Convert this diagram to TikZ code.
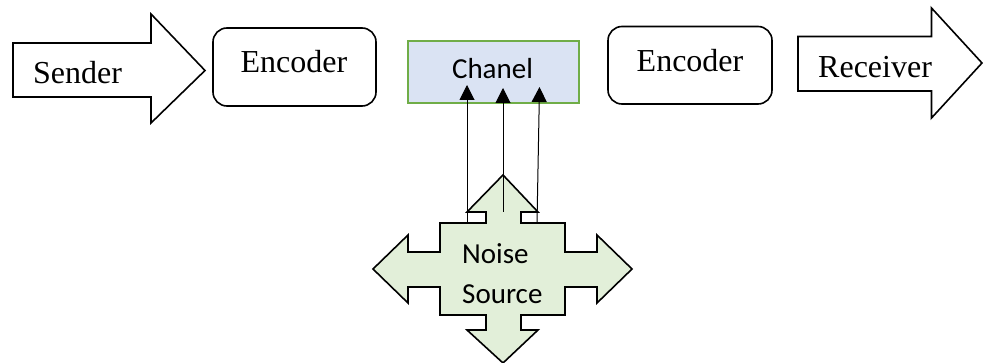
\documentclass[tikz,border=0pt]{standalone}
\usepackage{fontspec}
\newfontfamily\tnrfont{Liberation Serif}
\newfontfamily\calfont{Carlito}
\usetikzlibrary{arrows.meta}
\definecolor{chfill}{HTML}{DAE3F3}
\definecolor{chline}{HTML}{70AD47}
\definecolor{nsfill}{HTML}{E2EFD9}
\begin{document}
\begin{tikzpicture}[x=1pt,y=-1pt,
  shapeline/.style={draw=black,line width=1.6pt,line join=miter},
  encbox/.style={draw=black,line width=1.6pt,rounded corners=14pt},
  serif/.style={font=\tnrfont\fontsize{32}{38}\selectfont,inner sep=0pt},
  sans/.style={font=\calfont\fontsize{29}{35}\selectfont,inner sep=0pt},
  noisearrow/.style={draw=black,line width=1pt,-{Triangle[length=15pt,width=15pt]}}]
\useasboundingbox (0,0) rectangle (983,363);
% Sender arrow
\draw[shapeline,fill=white] (13,43) -- (151,43) -- (151,14) -- (205,70.5) -- (151,123) -- (151,97) -- (13,97) -- cycle;
\node[serif,anchor=base west] (sender) at (33,84) {Sender};
% Encoder 1
\draw[encbox] (213,28) rectangle (376,106);
\node[serif,anchor=base] (enc1t) at (294,73) {Encoder};
% Channel
\node[draw=chline,fill=chfill,line width=1.8pt,minimum width=171pt,minimum height=62pt,inner sep=0pt,anchor=north west] (chan) at (407,40) {};
\node[sans,anchor=base] (chant) at (492.5,79) {Chanel};
% Encoder 2
\draw[encbox] (608,26.5) rectangle (772,104);
\node[serif,anchor=base] (enc2t) at (690,72) {Encoder};
% Receiver arrow
\draw[shapeline,fill=white] (798,36.5) -- (931.5,36.5) -- (931.5,8) -- (982,63) -- (931.5,118) -- (931.5,91) -- (798,91) -- cycle;
\node[serif,anchor=base west] (recv) at (818,78) {Receiver};
% Noise source quad arrow
\draw[shapeline,fill=nsfill]
 (503,175) -- (538,212) -- (521,212) -- (521,223) -- (565,223) -- (565,252) -- (597,252) -- (597,235)
 -- (632,269) -- (597,303) -- (597,287) -- (565,287) -- (565,315) -- (521,315) -- (521,330) -- (538,330)
 -- (503,363) -- (467,330) -- (486,330) -- (486,315) -- (440,315) -- (440,287) -- (408,287) -- (408,303)
 -- (373,269) -- (408,235) -- (408,252) -- (440,252) -- (440,223) -- (486,223) -- (486,212) -- (467,212) -- cycle;
\node[sans,anchor=base west,align=left] (noise1) at (462,264) {Noise};
\node[sans,anchor=base west,align=left] (noise2) at (462,304) {Source};
% noise arrows
\coordinate (s1) at (467,222);
\coordinate (s2) at (503,212);
\coordinate (s3) at (537,223);
\coordinate (t1) at (467,85);
\coordinate (t2) at (503,88);
\coordinate (t3) at (539.5,87);
\draw[noisearrow] (s1) -- (t1);
\draw[noisearrow] (s2) -- (t2);
\draw[noisearrow] (s3) -- (t3);
\end{tikzpicture}
\end{document}
